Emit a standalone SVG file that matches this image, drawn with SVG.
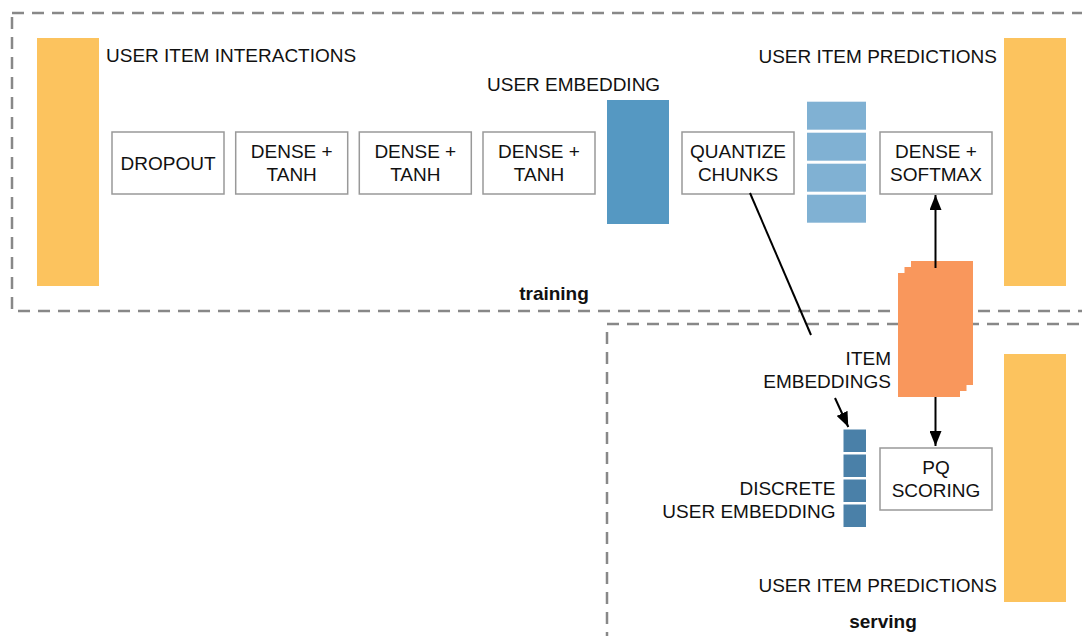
<svg xmlns="http://www.w3.org/2000/svg" width="1082" height="636" viewBox="0 0 1082 636">
<style>
text{font-family:"Liberation Sans",Arial,Helvetica,sans-serif;font-size:19px;fill:#111}
.c{text-anchor:middle}
.e{text-anchor:end}
.b{font-weight:bold}
.box{fill:#fff;stroke:#999;stroke-width:1.5}
.frame{fill:none;stroke:#888;stroke-width:2.5;stroke-dasharray:12 8}
.yel{fill:#FCC35E}
.ue{fill:#5598C2}
.lb{fill:#80B1D3}
.db{fill:#4A80A8}
.or{fill:#F9975C}
.conn{stroke:#000;stroke-width:2;fill:none}
</style>
<defs>
<marker id="ah" markerUnits="userSpaceOnUse" markerWidth="15" markerHeight="12" refX="15" refY="6" orient="auto">
<path d="M0,0 L15,6 L0,12 z" fill="#000"/>
</marker>
</defs>
<rect width="1082" height="636" fill="#fff"/>
<g id="frames">
<rect class="frame" x="12" y="13" width="1100" height="298"/>
<rect class="frame" x="607" y="324" width="500" height="340"/>
<text class="c b" x="554" y="300">training</text>
<text class="c b" x="883" y="628">serving</text>
</g>
<g id="interactions">
<rect class="yel" x="37" y="38" width="62" height="248"/>
<text x="106" y="62">USER ITEM INTERACTIONS</text>
</g>
<g id="dropout">
<rect class="box" x="112" y="132" width="112" height="62"/>
<text class="c" x="168" y="170">DROPOUT</text>
</g>
<g id="dense1">
<rect class="box" x="235.7" y="132" width="112" height="62"/>
<text class="c" x="291.7" y="158">DENSE +</text>
<text class="c" x="291.7" y="181">TANH</text>
</g>
<g id="dense2">
<rect class="box" x="359.3" y="132" width="112" height="62"/>
<text class="c" x="415.3" y="158">DENSE +</text>
<text class="c" x="415.3" y="181">TANH</text>
</g>
<g id="dense3">
<rect class="box" x="483" y="132" width="112" height="62"/>
<text class="c" x="539" y="158">DENSE +</text>
<text class="c" x="539" y="181">TANH</text>
</g>
<g id="user-embedding">
<rect class="ue" x="607" y="100" width="62" height="124"/>
<text x="487" y="91">USER EMBEDDING</text>
</g>
<g id="quantize">
<rect class="box" x="682" y="132" width="112" height="62"/>
<text class="c" x="738" y="158">QUANTIZE</text>
<text class="c" x="738" y="181">CHUNKS</text>
</g>
<g id="chunks">
<rect class="lb" x="807" y="101.7" width="59" height="28"/>
<rect class="lb" x="807" y="132.7" width="59" height="28"/>
<rect class="lb" x="807" y="163.7" width="59" height="28"/>
<rect class="lb" x="807" y="194.7" width="59" height="28"/>
</g>
<g id="softmax">
<rect class="box" x="880" y="132" width="112" height="62"/>
<text class="c" x="936" y="158">DENSE +</text>
<text class="c" x="936" y="181">SOFTMAX</text>
</g>
<g id="predictions-training">
<rect class="yel" x="1004" y="38" width="62" height="248"/>
<text class="e" x="997" y="63">USER ITEM PREDICTIONS</text>
</g>
<g id="item-embeddings">
<rect class="or" x="911" y="261" width="62" height="124"/>
<rect class="or" x="904.5" y="267" width="62" height="124"/>
<rect class="or" x="898" y="273" width="62" height="124"/>
<text class="e" x="891" y="365">ITEM</text>
<text class="e" x="891" y="387.5">EMBEDDINGS</text>
</g>
<g id="discrete">
<rect class="db" x="843.5" y="429.5" width="22.5" height="22.5"/>
<rect class="db" x="843.5" y="454.5" width="22.5" height="22.5"/>
<rect class="db" x="843.5" y="479.5" width="22.5" height="22.5"/>
<rect class="db" x="843.5" y="504.5" width="22.5" height="22.5"/>
<text class="e" x="835.5" y="495">DISCRETE</text>
<text class="e" x="835.5" y="518">USER EMBEDDING</text>
</g>
<g id="pq">
<rect class="box" x="880" y="448" width="112" height="62"/>
<text class="c" x="936" y="474">PQ</text>
<text class="c" x="936" y="497">SCORING</text>
</g>
<g id="predictions-serving">
<rect class="yel" x="1004" y="354" width="62" height="248"/>
<text class="e" x="997" y="592">USER ITEM PREDICTIONS</text>
</g>
<g id="connectors">
<line class="conn" x1="750" y1="193" x2="811" y2="335"/>
<line class="conn" x1="835" y1="398" x2="848.3" y2="427" marker-end="url(#ah)"/>
<line class="conn" x1="935.5" y1="268" x2="935.5" y2="195" marker-end="url(#ah)"/>
<line class="conn" x1="935.5" y1="397" x2="935.5" y2="446" marker-end="url(#ah)"/>
</g>
</svg>
